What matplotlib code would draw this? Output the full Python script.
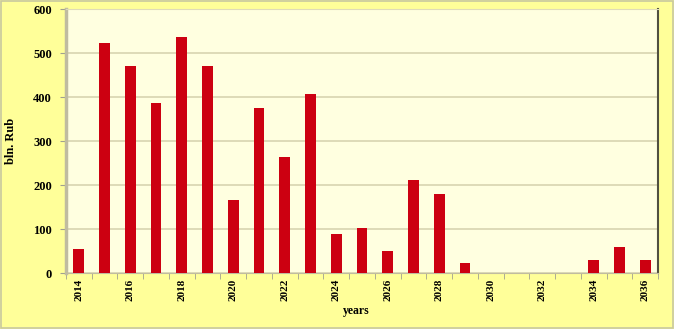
import matplotlib
matplotlib.use("Agg")
import matplotlib.pyplot as plt
import numpy as np

years = list(range(2014, 2037))
values = [55, 523, 470, 386, 537, 470, 166, 375, 263, 407, 88, 103, 49, 212, 180, 23,
          0, 0, 0, 0, 30, 59, 30]
tick_labels = [str(y) if (y - 2014) % 2 == 0 else "" for y in years]

fig = plt.figure(figsize=(6.74, 3.29), dpi=100, facecolor="#FFFF99")
fig.patches.append(matplotlib.patches.Rectangle((0.002, 0.004), 0.996, 0.992,
                   transform=fig.transFigure, fill=False, edgecolor="#C8C8A0", lw=1.2))
ax = fig.add_axes([66/674, 1 - 273/329, (658-66)/674, (273-9)/329])
ax.set_facecolor("#FFFFE0")

x = np.arange(len(years))
ax.bar(x, values, width=0.42, color="#CC0011", zorder=3)

ax.set_xlim(-0.5, len(years) - 0.5)
ax.set_ylim(0, 600)
ax.set_yticks(range(0, 601, 100))
ax.yaxis.grid(True, color="#D8D4B0", lw=1.2, zorder=0)
ax.set_xticks(x)
ax.set_xticklabels(tick_labels, rotation=90, family="Liberation Serif",
                   fontweight="bold", fontsize=8)
ax.tick_params(axis="x", length=0, pad=4)
ax.set_xticks(np.arange(-0.5, len(years), 1), minor=True)
ax.tick_params(axis="x", which="minor", length=4, color="#A0A090")
for lab in ax.get_yticklabels():
    lab.set_family("Liberation Serif")
    lab.set_fontweight("bold")
    lab.set_fontsize(9)
ax.tick_params(axis="y", length=4, color="#A0A090", pad=6)

for s in ["top"]:
    ax.spines[s].set_color("#E0DCB8")
ax.spines["left"].set_color("#C0BCA0")
ax.spines["left"].set_linewidth(2.5)
ax.spines["bottom"].set_color("#C0BCA0")
ax.spines["right"].set_color("#505040")
ax.spines["right"].set_linewidth(1.5)

ax.set_ylabel("bln. Rub", family="Liberation Serif", fontweight="bold", fontsize=9, labelpad=12)
fig.text(356/674, 1 - 311/329, "years", family="Liberation Serif", fontweight="bold",
         fontsize=8.5, ha="center", va="center")

fig.savefig("out.png", dpi=100, facecolor=fig.get_facecolor())
